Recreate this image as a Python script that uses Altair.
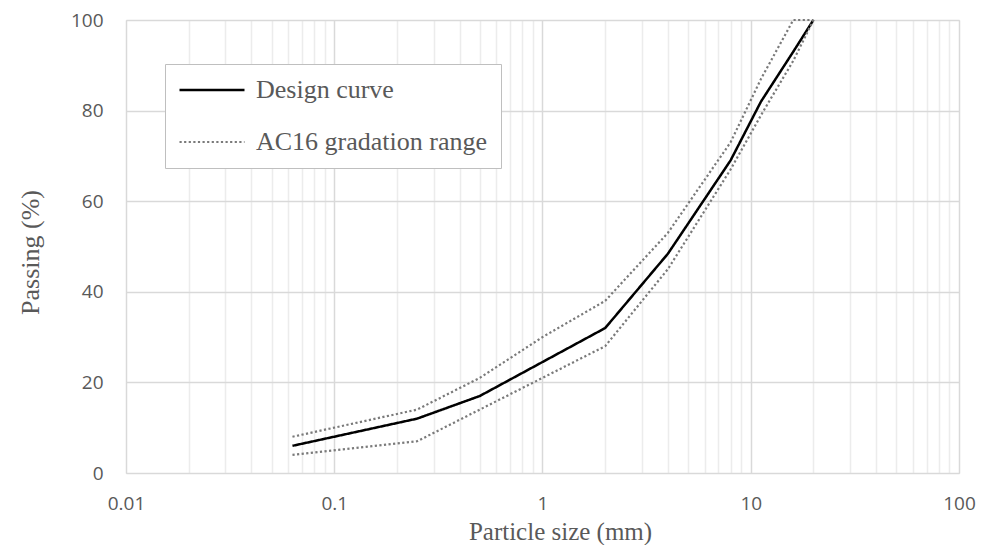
import altair as alt
import pandas as pd

# Sieve sizes (mm) and passing percentages
sizes = [0.063, 0.25, 0.5, 1, 2, 4, 8, 11.2, 16, 20]
design = [6, 12, 17, 24.5, 32, 48.4, 69, 82, 93, 100]
upper = [8, 14, 21, 30, 38, 53, 73, 87, 100, 100]
lower = [4, 7, 14, 21, 28, 45, 67, 79, 91, 100]

series_names = ["Design curve", "AC16 gradation range"]
y_ticks = [0, 20, 40, 60, 80, 100]
x_ticks = [m * 10.0 ** e for e in range(-2, 2) for m in range(1, 10)] + [100]

rows = []
for s, d, u, l in zip(sizes, design, upper, lower):
    rows.append({"size": s, "pass": d, "series": series_names[0], "line": "design"})
    rows.append({"size": s, "pass": u, "series": series_names[1], "line": "upper"})
    rows.append({"size": s, "pass": l, "series": series_names[1], "line": "lower"})
df = pd.DataFrame(rows)

major = "abs(log(datum.value)/LN10 - round(log(datum.value)/LN10)) < 0.001"
serif = "Liberation Serif"
sans = "Open Sans"
txt = "#595959"

legend = alt.Legend(
    title=None,
    orient="none",
    legendX=39,
    legendY=44,
    padding=13,
    strokeColor="#bfbfbf",
    fillColor="white",
    cornerRadius=0,
    symbolType="stroke",
    symbolSize=4225,
    clipHeight=26,
    rowPadding=26,
    labelFont=serif,
    labelFontSize=26,
    labelColor=txt,
    labelOffset=10,
    labelLimit=400,
)

chart = (
    alt.Chart(df)
    .mark_line(strokeCap="butt")
    .encode(
        x=alt.X(
            "size:Q",
            scale=alt.Scale(type="log", domain=[0.01, 100], nice=False),
            axis=alt.Axis(
                values=x_ticks,
                grid=True,
                gridColor={"condition": {"test": major, "value": "#d9d9d9"}, "value": "#ececec"},
                gridWidth=1.5,
                labelExpr=f"{major} ? format(datum.value, '~g') : ''",
                ticks=False,
                tickSize=0,
                domain=False,
                labelFont=sans,
                labelFontSize=19,
                labelColor=txt,
                labelPadding=30,
                labelBaseline="middle",
                labelFlush=False,
                labelBound=False,
                labelOverlap=False,
                title="Particle size (mm)",
                titleFont=serif,
                titleFontSize=25,
                titleFontWeight="normal",
                titleColor=txt,
                titleX=434,
                titleY=58,
                titleAlign="center",
                titleBaseline="middle",
            ),
        ),
        y=alt.Y(
            "pass:Q",
            scale=alt.Scale(domain=[0, 100], nice=False),
            axis=alt.Axis(
                values=y_ticks,
                grid=True,
                gridColor="#d9d9d9",
                gridWidth=1.5,
                ticks=False,
                tickSize=0,
                domain=False,
                labelFont=sans,
                labelFontSize=19,
                labelColor=txt,
                labelPadding=23,
                labelBaseline="middle",
                title="Passing (%)",
                titleFont=serif,
                titleFontSize=26,
                titleFontWeight="normal",
                titleColor=txt,
                titleX=-96,
                titleY=232,
                titleAngle=270,
                titleAlign="center",
                titleBaseline="middle",
            ),
        ),
        color=alt.Color(
            "series:N",
            scale=alt.Scale(domain=series_names, range=["#000000", "#7a7a7a"]),
            legend=legend,
        ),
        strokeDash=alt.StrokeDash(
            "series:N",
            scale=alt.Scale(domain=series_names, range=[[1, 0], [2.2, 2.4]]),
            legend=legend,
        ),
        strokeWidth=alt.StrokeWidth(
            "series:N",
            scale=alt.Scale(domain=series_names, range=[2.5, 2.2]),
            legend=legend,
        ),
        detail="line:N",
    )
    .properties(
        width=833,
        height=453,
        padding={"left": 118, "top": 12, "right": 17, "bottom": 72},
        autosize=alt.AutoSizeParams(type="none"),
    )
    .configure_view(stroke="#bfbfbf", strokeWidth=2)
    .configure(background="white")
)

chart.save("out.html", embed_options={"renderer": "svg", "actions": False})
